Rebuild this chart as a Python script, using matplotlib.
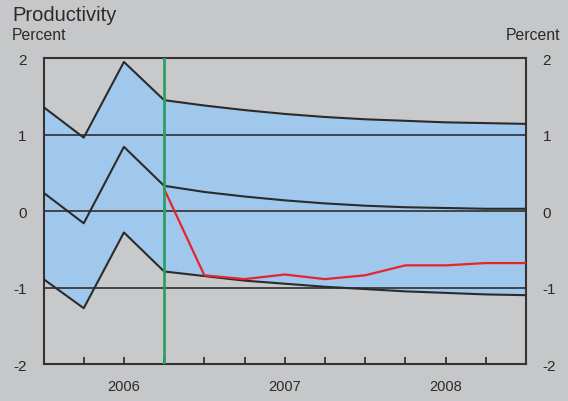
import numpy as np
import matplotlib.pyplot as plt

plt.rcParams['font.family'] = ['Liberation Sans', 'DejaVu Sans']

# quarterly positions, 0 = left edge of the panel
quarters = np.arange(13)
year_labels = ['2006', '2007', '2008']
year_pos = [2, 6, 10]

upper = [1.36, 0.96, 1.95, 1.45, 1.38, 1.32, 1.27, 1.23, 1.20, 1.18, 1.16, 1.15, 1.14]
middle = [0.24, -0.16, 0.84, 0.33, 0.25, 0.19, 0.14, 0.10, 0.07, 0.05, 0.04, 0.03, 0.03]
lower = [-0.89, -1.27, -0.28, -0.79, -0.85, -0.91, -0.95, -0.99, -1.02, -1.05, -1.07, -1.09, -1.10]

red_q = np.arange(3, 13)
red = [0.29, -0.84, -0.89, -0.83, -0.89, -0.84, -0.71, -0.71, -0.68, -0.68]

forecast_start = 3

bg = '#c6c7c9'
fig = plt.figure(figsize=(5.68, 4.02), dpi=100, facecolor=bg)
ax = fig.add_axes([0.0766, 0.092, 0.8494, 0.761])
ax.set_facecolor('#c8c9cb')

ax.fill_between(quarters, lower, upper, color='#a0c8ec', lw=0, zorder=1)
for yv in (-1, 0, 1):
    ax.axhline(yv, color='#3a3a3a', lw=1.3, zorder=2)
for s in (upper, middle, lower):
    ax.plot(quarters, s, color='#2b2b2b', lw=1.5, zorder=3)
ax.plot(red_q, red, color='#e8232c', lw=1.6, zorder=4)
ax.axvline(forecast_start, color='#2e9e62', lw=2, zorder=5)

ax.set_xlim(0, 12)
ax.set_ylim(-2, 2)

ticks = list(range(1, 12))
ax.set_xticks(ticks)
ax.set_xticklabels([year_labels[year_pos.index(t)] if t in year_pos else '' for t in ticks])
ax.tick_params(axis='x', direction='in', length=5, width=1.3, color='#333333',
               labelsize=10.5, labelcolor='#2a2a2a', pad=11)
ax.set_yticks([-2, -1, 0, 1, 2])
ax.set_yticklabels(['-2', '-1', '0', '1', '2'])
ax.tick_params(axis='y', length=0, labelsize=11, labelcolor='#2a2a2a', pad=12,
               right=True, labelright=True)

for sp in ax.spines.values():
    sp.set_color('#333333')
    sp.set_linewidth(1.5)

fig.text(0.021, 0.962, 'Productivity', fontsize=14.5, color='#2a2a2a', va='center')
fig.text(0.021, 0.912, 'Percent', fontsize=11.3, color='#2a2a2a', va='center')
fig.text(0.987, 0.912, 'Percent', fontsize=11.3, color='#2a2a2a', va='center', ha='right')

fig.savefig('out.png', dpi=100, facecolor=bg)
